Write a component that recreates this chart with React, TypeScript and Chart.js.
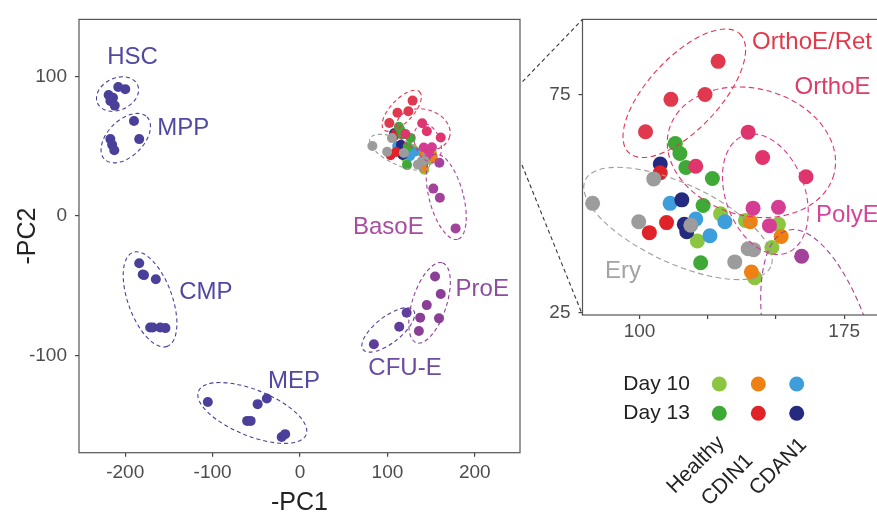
import React, { useEffect, useRef } from "react";
import { Chart, registerables } from "chart.js";

Chart.register(...registerables);

const FONT = "'Liberation Sans', Arial, Helvetica, sans-serif";

// ---------------- data (-PC1, -PC2) ----------------
// stage populations (left panel)
const hscX = [-219, -214, -217, -208, -200, -212];
const hscY = [86.6, 84.7, 82.3, 92.4, 90.8, 79.0];
const mppX = [-190, -184, -217, -215, -212.5];
const mppY = [68, 55, 55, 51, 47];
const cmpX = [-184, -180, -178.5, -165, -171.5, -168.5, -160, -154];
const cmpY = [-34, -42, -42.5, -45.5, -80, -80, -80, -80.5];
const mepX = [-105.5, -48.5, -38, -60.5, -56.5, -21, -17];
const mepY = [-133.5, -135, -131, -147, -147, -158.5, -156.5];
const cfueX = [84.5, 113.5, 122];
const cfueY = [-92, -79.5, -69.5];
const proeX = [154.5, 161, 145, 137.5, 159, 136];
const proeY = [-43.5, -56, -64, -73, -73.5, -82.5];
const basoeX = [159.4, 152.5, 160, 178];
const basoeY = [38, 19.5, 13, -9];

// late erythroid cluster (both panels)
const eryX = [82.8, 99.7, 105.2, 118.8, 134.9, 139.8, 141.8];
const eryY = [50.1, 45.9, 55.7, 45.1, 36.7, 39.7, 39.5];
const orthoRetX = [128.8, 111.5, 124, 102.2];
const orthoRetY = [82.6, 73.9, 75, 66.5];
const orthoX = [139.8, 145.1, 161, 120.6];
const orthoY = [66.4, 60.6, 56.2, 58.6];
const polyX = [141.6, 150.9, 147.6];
const polyY = [49, 49.2, 45];
const healthyD10X = [129.7, 138.8, 150.9, 148.5, 121.2, 142.2];
const healthyD10Y = [47.7, 46.2, 45.3, 40, 41.5, 33.1];
const healthyD13X = [113.1, 114.8, 117, 126.7, 123.3, 122.4];
const healthyD13Y = [63.8, 61.5, 58.3, 55.8, 49.6, 36.5];
const cdin1D10X = [140.6, 151.9, 141];
const cdin1D10Y = [45.9, 42.5, 34.4];
const cdin1D13X = [107.6, 109.9, 103.6];
const cdin1D13Y = [57.1, 45.7, 43.4];
const cdan1D10X = [111.2, 120.6, 131.3, 125.8];
const cdan1D10Y = [50.1, 46.5, 45.9, 42.7];
const cdan1D13X = [107.6, 115.5, 116.4, 117.3];
const cdan1D13Y = [59.1, 50.9, 45.3, 43.6];

// ticks
const leftXTicks = [-200, -100, 0, 100, 200];
const leftYTicks = [-100, 0, 100];
const rightXTicks = [100, 125, 150, 175];
const rightXLabelled = [100, 175];
const rightYTicks = [25, 75];

// legend
const dayLabels = ["Day 10", "Day 13"];
const conditionLabels = ["Healthy", "CDIN1", "CDAN1"];

// ---------------- colours ----------------
const COL = {
  stem: "#4a3f99",
  stemText: "#5148a1",
  cfue: "#5d3e9a",
  cfueText: "#6a4ca4",
  proe: "#8a3f97",
  proeText: "#8f4b9f",
  basoe: "#a2429b",
  basoeText: "#a94ca0",
  poly: "#d43d93",
  polyText: "#d4449b",
  ortho: "#e0346c",
  orthoText: "#e03a66",
  orthoRet: "#e0384c",
  orthoRetText: "#e23a4b",
  ery: "#9c9c9c",
  eryText: "#a3a3a3",
  hD10: "#8cc540",
  hD13: "#3ea936",
  iD10: "#ee8111",
  iD13: "#df2328",
  aD10: "#3e9edc",
  aD13: "#242a7f",
};
const legendColours = [
  [COL.hD10, COL.iD10, COL.aD10],
  [COL.hD13, COL.iD13, COL.aD13],
];

const pts = (xs: number[], ys: number[]) => xs.map((x, i) => ({ x, y: ys[i] }));

type Ell = { cx: number; cy: number; a: number; b: number; rot: number; color: string };
type Lbl = { text: string; x: number; y: number; color: string; align: CanvasTextAlign };

// ellipses: centre in data units, semi-axes in x-axis units (screen-space), rotation in degrees
const stageEllipses: Ell[] = [
  { cx: -208.8, cy: 87.3, a: 25.2, b: 18.3, rot: -25, color: COL.stem },
  { cx: -199.4, cy: 55.7, a: 34.3, b: 20.6, rot: -45, color: COL.stem },
  { cx: -171.6, cy: -59.9, a: 57.2, b: 25.2, rot: 70, color: COL.stem },
  { cx: -54.6, cy: -141.3, a: 66.4, b: 26.3, rot: 22, color: COL.stem },
  { cx: 101, cy: -81.8, a: 36.6, b: 14.9, rot: -38, color: COL.cfue },
  { cx: 148.2, cy: -62.4, a: 48.1, b: 19.5, rot: -72, color: COL.proe },
];
const clusterEllipses: Ell[] = [
  { cx: 167.3, cy: 13.6, a: 50.3, b: 19.5, rot: 75, color: COL.basoe },
  { cx: 114.1, cy: 45.5, a: 37.5, b: 14.5, rot: 25, color: COL.ery },
  { cx: 116.4, cy: 75.3, a: 29.8, b: 13.1, rot: -47, color: COL.orthoRet },
  { cx: 141, cy: 61.8, a: 31.3, b: 23.3, rot: 15, color: COL.ortho },
  { cx: 146.1, cy: 52.2, a: 22.9, b: 14.5, rot: 70, color: COL.poly },
];

const leftLabels: Lbl[] = [
  { text: "HSC", x: -191.6, y: 113.6, color: COL.stemText, align: "center" },
  { text: "MPP", x: -133.5, y: 63.0, color: COL.stemText, align: "center" },
  { text: "CMP", x: -107.8, y: -54.8, color: COL.stemText, align: "center" },
  { text: "MEP", x: -6.9, y: -118.4, color: COL.stemText, align: "center" },
  { text: "CFU-E", x: 120.1, y: -109.5, color: COL.cfueText, align: "center" },
  { text: "ProE", x: 208.5, y: -52.4, color: COL.proeText, align: "center" },
  { text: "BasoE", x: 101, y: -8.1, color: COL.basoeText, align: "center" },
];
const rightLabels: Lbl[] = [
  { text: "OrthoE/Ret", x: 141.2, y: 86.9, color: COL.orthoRetText, align: "left" },
  { text: "OrthoE", x: 156.8, y: 76.7, color: COL.orthoText, align: "left" },
  { text: "PolyE", x: 164.7, y: 47.3, color: COL.polyText, align: "left" },
  { text: "Ery", x: 87.3, y: 34.5, color: COL.eryText, align: "left" },
];

function datasets(r: number, includeStages: boolean) {
  const ds = (xs: number[], ys: number[], c: string) => ({
    data: pts(xs, ys),
    backgroundColor: c,
    borderWidth: 0,
    pointRadius: r,
    pointHoverRadius: r,
  });
  const list: any[] = [];
  if (includeStages) {
    list.push(
      ds(hscX, hscY, COL.stem),
      ds(mppX, mppY, COL.stem),
      ds(cmpX, cmpY, COL.stem),
      ds(mepX, mepY, COL.stem),
      ds(cfueX, cfueY, COL.cfue),
      ds(proeX, proeY, COL.proe)
    );
  }
  list.push(
    ds(basoeX, basoeY, COL.basoe),
    ds(eryX, eryY, COL.ery),
    ds(orthoRetX, orthoRetY, COL.orthoRet),
    ds(orthoX, orthoY, COL.ortho),
    ds(polyX, polyY, COL.poly),
    ds(healthyD13X, healthyD13Y, COL.hD13),
    ds(cdin1D13X, cdin1D13Y, COL.iD13),
    ds(cdan1D13X, cdan1D13Y, COL.aD13),
    ds(cdan1D10X, cdan1D10Y, COL.aD10),
    ds(cdin1D10X, cdin1D10Y, COL.iD10),
    ds(healthyD10X, healthyD10Y, COL.hD10)
  );
  return list;
}

function overlay(id: string, ellipses: Ell[], labels: Lbl[], dash: number[], extra?: (c: any) => void) {
  return {
    id,
    afterDatasetsDraw(chart: any) {
      const { ctx, chartArea: ca, scales } = chart;
      const x = scales.x, y = scales.y;
      const ppu = Math.abs(x.getPixelForValue(1) - x.getPixelForValue(0));
      ctx.save();
      ctx.beginPath();
      ctx.rect(ca.left, ca.top, ca.right - ca.left, ca.bottom - ca.top);
      ctx.clip();
      ctx.setLineDash(dash);
      ctx.lineWidth = 1.1;
      for (const e of ellipses) {
        ctx.strokeStyle = e.color;
        ctx.beginPath();
        ctx.ellipse(
          x.getPixelForValue(e.cx),
          y.getPixelForValue(e.cy),
          e.a * ppu,
          e.b * ppu,
          (e.rot * Math.PI) / 180,
          0,
          Math.PI * 2
        );
        ctx.stroke();
      }
      ctx.restore();
      ctx.save();
      ctx.font = `24px ${FONT}`;
      ctx.textBaseline = "middle";
      for (const l of labels) {
        ctx.fillStyle = l.color;
        ctx.textAlign = l.align;
        ctx.fillText(l.text, x.getPixelForValue(l.x), y.getPixelForValue(l.y));
      }
      ctx.restore();
    },
    afterDraw(chart: any) {
      const { ctx, chartArea: ca } = chart;
      ctx.save();
      ctx.strokeStyle = "#555";
      ctx.lineWidth = 1.2;
      ctx.strokeRect(ca.left, ca.top, ca.right - ca.left, ca.bottom - ca.top);
      ctx.restore();
      if (extra) extra(chart);
    },
  };
}

const tickFont = { family: FONT, size: 19 };

function axisBase(min: number, max: number, ticks: number[], pad: number, labelled?: number[]) {
  return {
    type: "linear" as const,
    min,
    max,
    afterBuildTicks: (s: any) => {
      s.ticks = ticks.map((v) => ({ value: v }));
    },
    ticks: {
      font: tickFont,
      color: "#4d4d4d",
      padding: pad,
      callback: (v: any) => (labelled && !labelled.includes(v) ? "" : String(v)),
    },
    grid: { display: true, drawOnChartArea: false, drawTicks: true, tickLength: 4, tickColor: "#444", lineWidth: 1.2 },
    border: { display: false },
  };
}

export default function App() {
  const leftRef = useRef<HTMLCanvasElement>(null);
  const rightRef = useRef<HTMLCanvasElement>(null);

  useEffect(() => {
    const left = new Chart(leftRef.current!, {
      type: "scatter",
      data: { datasets: datasets(5, true) },
      options: {
        animation: false,
        responsive: false,
        events: [],
        layout: { padding: { left: 13, top: 13.3, right: 10, bottom: 0 } },
        plugins: { legend: { display: false }, tooltip: { enabled: false } },
        scales: {
          x: {
            ...axisBase(-252.9, 251.7, leftXTicks, 5),
            title: { display: true, text: "-PC1", font: { family: FONT, size: 25 }, color: "#222", padding: { top: 0, bottom: 1 } },
            afterFit: (s: any) => {
              s.height = 66.3;
            },
          },
          y: {
            ...axisBase(-169.8, 140.8, leftYTicks, 8),
            title: { display: true, text: "-PC2", font: { family: FONT, size: 25 }, color: "#222", padding: { top: 0, bottom: 0 } },
            afterFit: (s: any) => {
              s.width = 66;
            },
          },
        },
      } as any,
      plugins: [overlay("leftOverlay", [...stageEllipses, ...clusterEllipses], leftLabels, [4, 3])],
    });

    const drawExtras = (chart: any) => {
      const { ctx, chartArea: ca } = chart;
      ctx.save();
      // zoom connector lines
      ctx.strokeStyle = "#333";
      ctx.lineWidth = 1.1;
      ctx.setLineDash([4, 3]);
      ctx.beginPath();
      ctx.moveTo(2.5, 81.7);
      ctx.lineTo(ca.left, ca.top);
      ctx.moveTo(2, 165);
      ctx.lineTo(ca.left, ca.bottom);
      ctx.stroke();
      ctx.setLineDash([]);
      // legend
      ctx.font = `21px ${FONT}`;
      ctx.fillStyle = "#222";
      ctx.textAlign = "left";
      ctx.textBaseline = "middle";
      const rowsY = [384, 413.3];
      const colsX = [199.3, 238.3, 276.7];
      dayLabels.forEach((t, i) => ctx.fillText(t, 103.3, rowsY[i]));
      legendColours.forEach((row, i) =>
        row.forEach((c, j) => {
          ctx.fillStyle = c;
          ctx.beginPath();
          ctx.arc(colsX[j], rowsY[i], 7.5, 0, Math.PI * 2);
          ctx.fill();
        })
      );
      const labelCentres = [
        [175.8, 465],
        [207.5, 480],
        [258.3, 466.7],
      ];
      ctx.fillStyle = "#222";
      ctx.textAlign = "center";
      conditionLabels.forEach((t, i) => {
        ctx.save();
        ctx.translate(labelCentres[i][0], labelCentres[i][1]);
        ctx.rotate(-Math.PI / 4);
        ctx.fillText(t, 0, 0);
        ctx.restore();
      });
      ctx.restore();
    };

    const right = new Chart(rightRef.current!, {
      type: "scatter",
      data: { datasets: datasets(7.5, false) },
      options: {
        animation: false,
        responsive: false,
        events: [],
        layout: { padding: { left: 0, top: 13.3, right: 5, bottom: 0 } },
        plugins: { legend: { display: false }, tooltip: { enabled: false } },
        scales: {
          x: {
            ...axisBase(79.1, 192.7, rightXTicks, 1, rightXLabelled),
            afterFit: (s: any) => {
              s.height = 204;
            },
          },
          y: {
            ...axisBase(24.55, 92.2, rightYTicks, 8),
            afterFit: (s: any) => {
              s.width = 62.5;
            },
          },
        },
      } as any,
      plugins: [overlay("rightOverlay", clusterEllipses, rightLabels, [5.5, 3.5], drawExtras)],
    });

    return () => {
      left.destroy();
      right.destroy();
    };
  }, []);

  return (
    <div
      style={{
        position: "fixed",
        left: 0,
        top: 0,
        width: 877,
        height: 519,
        overflow: "hidden",
        background: "#fff",
      }}
    >
      <canvas ref={leftRef} width={530} height={519} style={{ position: "absolute", left: 0, top: 0, width: 530, height: 519 }} />
      <canvas ref={rightRef} width={380} height={519} style={{ position: "absolute", left: 520, top: 0, width: 380, height: 519 }} />
    </div>
  );
}
